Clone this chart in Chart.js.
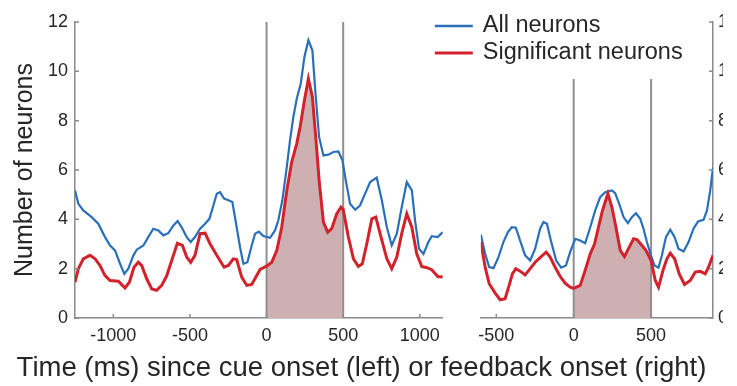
<!DOCTYPE html>
<html>
<head>
<meta charset="utf-8">
<title>Number of neurons over time</title>
<script src="https://cdn.jsdelivr.net/npm/chart.js@4.4.1/dist/chart.umd.min.js"></script>
<style>
  html, body { margin: 0; padding: 0; background: #fff; }
  canvas { display: block; }
</style>
</head>
<body>
<canvas id="neuronChart" width="737" height="386"></canvas>
<script>
// cue-aligned panel (left)
const cueAllTimes = [-1250, -1228, -1196, -1141, -1098, -1054, -1021, -989, -956, -928, -902, -869, -847, -804, -772, -739, -706, -674, -641, -608, -580, -554, -521, -495, -467, -434, -401, -373, -347, -325, -304, -277, -249, -223, -195, -173, -151, -125, -97, -75, -50, -21, 23, 55, 77, 103, 132, 153, 175, 197, 223, 247, 273, 299, 321, 343, 371, 403, 436, 469, 495, 517, 545, 578, 610, 643, 676, 719, 752, 785, 817, 850, 882, 915, 948, 969, 995, 1024, 1056, 1078, 1117, 1150];
const cueAllCounts = [5.17, 4.63, 4.36, 4.09, 3.82, 3.28, 2.94, 2.74, 2.2, 1.79, 2.0, 2.54, 2.77, 2.94, 3.28, 3.62, 3.55, 3.35, 3.44, 3.75, 3.93, 3.68, 3.28, 3.08, 3.28, 3.62, 3.82, 4.02, 4.56, 5.04, 5.1, 4.84, 4.77, 4.7, 3.68, 2.87, 2.2, 2.26, 2.94, 3.42, 3.5, 3.32, 3.25, 3.55, 3.96, 4.77, 6.12, 7.2, 8.15, 8.89, 9.5, 10.58, 11.26, 10.85, 8.96, 7.33, 6.59, 6.62, 6.73, 6.75, 6.39, 5.58, 4.63, 4.39, 4.56, 5.04, 5.51, 5.69, 4.77, 3.68, 2.94, 3.42, 4.49, 5.51, 5.17, 3.96, 2.81, 2.6, 3.08, 3.32, 3.28, 3.48];

const cueSigTimes = [-1250, -1228, -1196, -1152, -1119, -1087, -1054, -1021, -967, -924, -895, -865, -837, -815, -782, -749, -717, -684, -651, -619, -582, -549, -521, -495, -467, -434, -401, -369, -325, -277, -249, -217, -195, -162, -129, -97, -42, 0, 34, 67, 99, 132, 164, 197, 219, 247, 273, 299, 321, 343, 371, 399, 425, 458, 486, 500, 534, 567, 599, 625, 654, 687, 713, 747, 785, 817, 850, 882, 915, 948, 980, 1013, 1046, 1078, 1117, 1150];
const cueSigCounts = [1.45, 2.0, 2.4, 2.54, 2.4, 2.13, 1.72, 1.52, 1.49, 1.22, 1.45, 2.06, 2.26, 2.13, 1.59, 1.18, 1.12, 1.32, 1.72, 2.33, 3.03, 2.94, 2.47, 2.26, 2.54, 3.42, 3.44, 3.01, 2.54, 2.06, 2.13, 2.4, 2.37, 1.66, 1.32, 1.36, 1.97, 2.1, 2.26, 2.74, 3.68, 5.17, 6.32, 7.07, 7.74, 8.82, 9.7, 8.96, 7.33, 5.58, 3.89, 3.48, 3.62, 4.23, 4.49, 4.4, 3.28, 2.4, 2.09, 2.2, 3.01, 4.02, 4.09, 3.28, 2.4, 2.0, 2.47, 3.42, 4.23, 3.68, 2.6, 2.09, 2.04, 1.96, 1.68, 1.66];

// feedback-aligned panel (right)
const fbAllTimes = [-600, -572, -546, -518, -486, -454, -425, -400, -374, -346, -314, -281, -249, -217, -195, -173, -145, -113, -81, -50, -23, 10, 42, 74, 107, 139, 171, 204, 247, 268, 294, 322, 350, 376, 402, 430, 451, 473, 499, 522, 548, 570, 596, 624, 652, 677, 710, 742, 774, 803, 839, 861, 882, 900];
const fbAllCounts = [3.38, 2.6, 2.06, 2.02, 2.47, 3.08, 3.48, 3.68, 3.66, 3.14, 2.54, 2.33, 2.81, 3.62, 3.89, 3.82, 3.08, 2.33, 2.04, 2.13, 2.67, 3.21, 3.14, 3.03, 3.68, 4.36, 4.9, 5.1, 5.17, 5.06, 4.63, 4.09, 3.85, 4.09, 4.25, 4.02, 3.62, 3.08, 2.54, 2.13, 2.04, 2.54, 3.28, 3.58, 3.28, 2.81, 2.7, 3.08, 3.62, 3.91, 3.98, 4.36, 5.17, 6.1];

const fbSigTimes = [-600, -572, -546, -507, -475, -443, -417, -396, -374, -346, -314, -281, -249, -210, -178, -152, -120, -87, -55, -23, 0, 42, 74, 107, 135, 160, 186, 221, 247, 273, 301, 328, 354, 387, 409, 436, 467, 500, 527, 548, 577, 602, 624, 652, 682, 716, 753, 785, 818, 850, 871, 900];
const fbSigCounts = [3.08, 2.06, 1.39, 1.01, 0.74, 0.78, 1.32, 1.79, 2.0, 1.9, 1.75, 2.0, 2.26, 2.49, 2.67, 2.47, 2.06, 1.68, 1.41, 1.25, 1.2, 1.32, 1.93, 2.6, 3.01, 3.68, 4.36, 5.04, 4.49, 3.68, 2.74, 2.49, 2.81, 3.21, 3.18, 2.98, 2.74, 2.33, 1.52, 1.25, 1.93, 2.4, 2.63, 2.4, 1.79, 1.36, 1.52, 1.86, 1.89, 1.79, 2.06, 2.54];

const seriesLabels = ['All neurons', 'Significant neurons'];
const yTicks = [0, 2, 4, 6, 8, 10, 12];
const cueTicks = [-1000, -500, 0, 500, 1000];
const fbTicks = [-500, 0, 500];
const windowEdges = [0, 500];   // analysis window, ms
const yMax = 12;

const BLUE = '#2a70b9';
const RED = '#d2232c';
const SHADE = 'rgb(207,176,178)';
const AXIS = '#8a8a8a';
const TEXT = '#262626';
const FONT = '"Liberation Sans", Arial, Helvetica, sans-serif';

const toPoints = (ts, vs) => ts.map((t, i) => ({ x: t, y: vs[i] }));
const inWindow = (pts) => pts.filter((p) => p.x >= windowEdges[0] && p.x <= windowEdges[1]);

const cueAll = toPoints(cueAllTimes, cueAllCounts);
const cueSig = toPoints(cueSigTimes, cueSigCounts);
const fbAll = toPoints(fbAllTimes, fbAllCounts);
const fbSig = toPoints(fbSigTimes, fbSigCounts);

const lineSet = (data, xAxisID, color, width, order) => ({
  data, xAxisID, yAxisID: 'y',
  borderColor: color, borderWidth: width,
  pointRadius: 0, tension: 0, fill: false, order,
});
const shadeSet = (data, xAxisID) => ({
  data, xAxisID, yAxisID: 'y',
  borderWidth: 0, borderColor: 'rgba(0,0,0,0)',
  backgroundColor: SHADE, pointRadius: 0, fill: 'origin', order: 4,
});
const edgeSets = (xAxisID) => windowEdges.map((t) => ({
  data: [{ x: t, y: 0 }, { x: t, y: yMax }], xAxisID, yAxisID: 'y',
  borderColor: '#8f8f8f', borderWidth: 2, pointRadius: 0, fill: false, order: 3,
}));

const tickList = (values) => (scale) => {
  scale.ticks = values.map((v) => ({ value: v }));
};
const plainLabel = (v) => String(v);

// small ticks drawn on the inside of every axis
const inwardTicks = {
  id: 'inwardTicks',
  afterDraw(chart) {
    const { ctx, chartArea, scales } = chart;
    ctx.save();
    ctx.strokeStyle = AXIS;
    ctx.lineWidth = 1.5;
    ctx.beginPath();
    ['x', 'x2'].forEach((id) => {
      const s = scales[id];
      s.ticks.forEach((t) => {
        const px = s.getPixelForValue(t.value);
        ctx.moveTo(px, chartArea.bottom);
        ctx.lineTo(px, chartArea.bottom - 4);
      });
    });
    scales.y.ticks.forEach((t) => {
      const py = scales.y.getPixelForValue(t.value);
      ctx.moveTo(chartArea.left, py);
      ctx.lineTo(chartArea.left + 4, py);
    });
    scales.y2.ticks.forEach((t) => {
      const py = scales.y2.getPixelForValue(t.value);
      ctx.moveTo(chartArea.right, py);
      ctx.lineTo(chartArea.right - 4, py);
    });
    ctx.stroke();
    ctx.restore();
  },
};

// legend box with white background sitting over the right panel
const legendBox = {
  id: 'legendBox',
  afterDatasetsDraw(chart) {
    const { ctx, chartArea, scales } = chart;
    const x0 = scales.x2.left;
    const top = chartArea.top;
    ctx.save();
    ctx.fillStyle = '#fff';
    ctx.fillRect(x0 - 52, top - 14, 272, 71);
    [BLUE, RED].forEach((color, i) => {
      const y = top + 4 + i * 27;
      ctx.strokeStyle = color;
      ctx.lineWidth = i === 0 ? 2.5 : 3;
      ctx.beginPath();
      ctx.moveTo(x0 - 46, y);
      ctx.lineTo(x0 - 8, y);
      ctx.stroke();
      ctx.fillStyle = TEXT;
      ctx.font = '23.5px ' + FONT;
      ctx.textBaseline = 'middle';
      ctx.fillText(seriesLabels[i], x0 + 2, y);
    });
    ctx.restore();
  },
};

const tickFont = { family: FONT, size: 18 };

new Chart(document.getElementById('neuronChart').getContext('2d'), {
  type: 'line',
  data: {
    datasets: [
      lineSet(cueSig, 'x', RED, 3, 0),
      lineSet(fbSig, 'x2', RED, 3, 0),
      lineSet(cueAll, 'x', BLUE, 2.2, 1),
      lineSet(fbAll, 'x2', BLUE, 2.2, 1),
      ...edgeSets('x'),
      ...edgeSets('x2'),
      shadeSet(inWindow(cueSig), 'x'),
      shadeSet(inWindow(fbSig), 'x2'),
    ],
  },
  options: {
    responsive: false,
    animation: false,
    events: [],
    layout: { padding: { left: 0, right: 14, top: 22, bottom: 0 } },
    plugins: {
      legend: { display: false },
      tooltip: { enabled: false },
      title: {
        display: true,
        position: 'bottom',
        text: 'Time (ms) since cue onset (left) or feedback onset (right)',
        color: TEXT,
        font: { family: FONT, size: 27.5, weight: 'normal' },
        padding: { top: 0, bottom: 1 },
      },
    },
    scales: {
      x: {
        type: 'linear', position: 'bottom', stack: 'time', stackWeight: 367.5, weight: 1,
        min: -1250, max: 1150,
        afterBuildTicks: tickList(cueTicks),
        afterFit: (s) => { s.height = 34; },
        ticks: { font: tickFont, color: TEXT, padding: 7, autoSkip: false, maxRotation: 0, callback: plainLabel },
        grid: { display: false, drawTicks: false },
        border: { color: AXIS, width: 1.5 },
      },
      gap: {
        type: 'linear', position: 'bottom', stack: 'time', stackWeight: 38, weight: 2,
        min: 0, max: 1,
        afterFit: (s) => { s.height = 34; },
        ticks: { display: false },
        grid: { display: false, drawTicks: false },
        border: { display: false },
      },
      x2: {
        type: 'linear', position: 'bottom', stack: 'time', stackWeight: 232, weight: 3,
        min: -600, max: 900,
        afterBuildTicks: tickList(fbTicks),
        afterFit: (s) => { s.height = 34; },
        ticks: { font: tickFont, color: TEXT, padding: 7, autoSkip: false, maxRotation: 0, callback: plainLabel },
        grid: { display: false, drawTicks: false },
        border: { color: AXIS, width: 1.5 },
      },
      y: {
        type: 'linear', position: 'left', min: 0, max: yMax,
        afterBuildTicks: tickList(yTicks),
        afterFit: (s) => { s.width = 75; },
        ticks: { font: tickFont, color: TEXT, padding: 7, callback: plainLabel },
        grid: { display: false, drawTicks: false },
        border: { color: AXIS, width: 1.5 },
        title: {
          display: true, text: 'Number of neurons', color: TEXT,
          font: { family: FONT, size: 25 }, padding: { top: 10, bottom: 0 },
        },
      },
      y2: {
        type: 'linear', position: 'right', min: 0, max: yMax,
        afterBuildTicks: tickList(yTicks),
        afterFit: (s) => { s.width = 10; },
        ticks: { font: tickFont, color: TEXT, padding: 5, callback: plainLabel },
        grid: { display: false, drawTicks: false },
        border: { color: AXIS, width: 1.5 },
      },
    },
  },
  plugins: [inwardTicks, legendBox],
});
</script>
</body>
</html>
